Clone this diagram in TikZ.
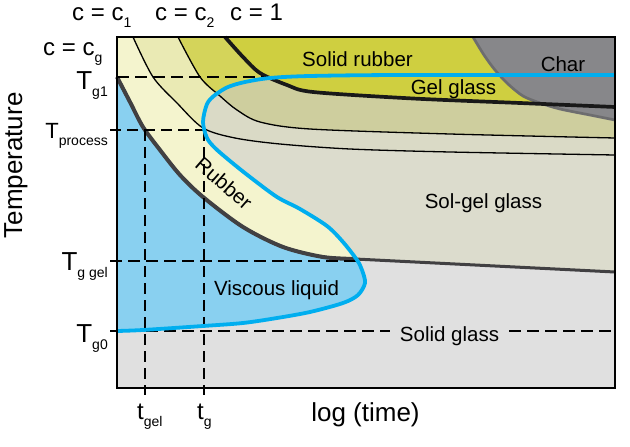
\documentclass[tikz,border=0pt]{standalone}
\usepackage{fontspec}
\setmainfont{Liberation Sans}
\definecolor{glassgray}{HTML}{E0E0E0}
\definecolor{creamband}{HTML}{F4F4CE}
\definecolor{paleband}{HTML}{EAEAB4}
\definecolor{yellowband}{HTML}{D4D45A}
\definecolor{rubberyellow}{HTML}{CFCF40}
\definecolor{solgel}{HTML}{DCDCCD}
\definecolor{solgelpale}{HTML}{DADAC6}
\definecolor{solgelkhaki}{HTML}{CECE9E}
\definecolor{liquidblue}{HTML}{89D0F0}
\definecolor{tttblue}{HTML}{00AEEF}
\definecolor{chargray}{HTML}{87878A}
\definecolor{charedge}{HTML}{6D6D6F}
\definecolor{gelgray}{HTML}{414042}
\newcommand{\lowsub}[1]{\raisebox{-7pt}{\fontsize{14}{14}\selectfont #1}}
\newcommand{\gelcurve}{plot[smooth] coordinates {(117,77) (130,102) (143,127) (160,150) (180,175) (203,197) (243,227) (283,247) (323,257) (355,259)}}
\newcommand{\conecurve}{plot[smooth] coordinates {(133,37) (153,77) (177,103) (203,128) (235,138) (280,144) (350,149) (450,152) (615,155)}}
\newcommand{\ctwocurve}{plot[smooth] coordinates {(178,37) (200,77) (220,96) (237,110) (260,122) (310,129) (450,134) (615,138)}}
\newcommand{\cthreecurve}{plot[smooth] coordinates {(225,37) (243,57) (260,73) (287,85) (313,92) (413,98.5) (520,103) (615,107)}}
\newcommand{\tttcurve}{plot[smooth] coordinates {(117,331) (143,330) (203,326) (243,323) (277,318) (310,312) (343,303) (358,295) (365,283) (362,270) (357,260) (343,242) (327,226) (300,209) (277,197) (250,177) (230,161) (215,148) (207,138) (203,122) (207,104) (215,95) (228,87) (245,82) (270,78) (310,76) (400,75) (615,75)}}
\newcommand{\charcurve}{plot[smooth] coordinates {(473,37) (484,55) (495,70) (508,84) (523,96) (540,103) (560,109) (590,115) (615,120)}}

\begin{document}
\begin{tikzpicture}[x=1pt, y=-1pt,
	region/.style={font=\fontsize{20.5}{24}\selectfont, inner sep=0pt},
	axislabel/.style={font=\fontsize{24}{28}\selectfont, inner sep=0pt},
	tlabel/.style={font=\fontsize{26}{30}\selectfont, inner sep=0pt, anchor=base east},
	guide/.style={dash pattern=on 12pt off 6pt, line width=1.8pt},
	thinguide/.style={dash pattern=on 11pt off 6pt, line width=1.3pt},
	cline/.style={line width=1.3pt}]
	\useasboundingbox (0,0) rectangle (630,447);
	\coordinate (nw) at (117,37);
	\coordinate (ne) at (615,37);
	\coordinate (se) at (615,388);
	\coordinate (sw) at (117,388);
	\coordinate (gelend) at (615,272);
	\coordinate (tgone) at (117,77);
	\coordinate (tgoneend) at (287,77);
	\coordinate (tproc) at (110,130);
	\coordinate (tprocend) at (204,130);
	\coordinate (tggel) at (110,261);
	\coordinate (tggelend) at (357,261);
	\coordinate (tgzero) at (110,331);
	\coordinate (tgzeroend) at (615,331);
	\coordinate (tgel) at (145,130);
	\coordinate (tgelend) at (145,395);
	\coordinate (tg) at (204,130);
	\coordinate (tgend) at (204,395);

	\fill[glassgray] (nw) rectangle (se);
	\fill[creamband] \gelcurve -- (gelend) -- (ne) -- (nw) -- cycle;
	\fill[paleband] \conecurve -- (ne) -- cycle;
	\fill[yellowband] \ctwocurve -- (ne) -- cycle;
	\fill[rubberyellow] \cthreecurve -- (ne) -- cycle;
	\begin{scope}
		\clip \tttcurve -- (se) -- (sw) -- cycle;
		\fill[solgel] \gelcurve -- (gelend) -- (ne) -- (nw) -- cycle;
		\fill[solgelpale] \conecurve -- (ne) -- cycle;
		\fill[solgelkhaki] \ctwocurve -- (ne) -- cycle;
		\fill[rubberyellow] \cthreecurve -- (ne) -- cycle;
	\end{scope}
	\begin{scope}
		\clip \tttcurve -- (ne) -- (nw) -- cycle;
		\fill[liquidblue] \gelcurve -- (gelend) -- (se) -- (sw) -- cycle;
	\end{scope}
	\fill[chargray] \charcurve -- (ne) -- cycle;
	\draw[charedge, line width=2.7pt] \charcurve;

	\draw[cline] \conecurve;
	\draw[cline] \ctwocurve;
	\draw[black!90, line width=3.7pt] \cthreecurve;
	\draw[gelgray, line width=3pt] \gelcurve -- (gelend);
	\draw[gelgray, line width=4pt] \gelcurve;

	\node[region, inner xsep=10pt, anchor=base] (solidglass) at (449.5,341) {Solid glass};
	\draw[guide] (tgone) -- (tgoneend);
	\draw[thinguide] (tproc) -- (tprocend);
	\draw[guide] (tggel) -- (tggelend);
	\draw[guide] (tgzero) -- (tgzero -| solidglass.west);
	\draw[guide] (tgzero -| solidglass.east) -- (tgzeroend);
	\draw[thinguide] (tgel) -- (tgelend);
	\draw[thinguide] (tg) -- (tgend);

	\draw[tttblue, line width=3.8pt] \tttcurve;
	\draw[line width=2.5pt] (nw) rectangle (se);

	\node[axislabel, anchor=base west] (cone) at (72,20) {c = c\lowsub{1}};
	\node[axislabel, anchor=base west] (ctwo) at (155,20) {c = c\lowsub{2}};
	\node[axislabel, anchor=base west] (cunit) at (230,20) {c = 1};
	\node[axislabel, anchor=base west] (cgel) at (43,55) {c = c\lowsub{g}};
	\node[tlabel] (tgonelabel) at (108,89) {T\lowsub{g1}};
	\node[tlabel, font=\fontsize{22}{26}\selectfont] (tproclabel) at (108,138) {T\lowsub{process}};
	\node[tlabel] (tggellabel) at (108,270) {T\lowsub{g gel}};
	\node[tlabel] (tgzerolabel) at (108,342) {T\lowsub{g0}};
	\node[axislabel, anchor=base west] (tgellabel) at (137,419) {t\lowsub{gel}};
	\node[axislabel, anchor=base west] (tglabel) at (197,419) {t\lowsub{g}};
	\node[axislabel, font=\fontsize{26}{30}\selectfont, anchor=base] (timelabel) at (365.5,421) {log (time)};
	\node[axislabel, font=\fontsize{26}{30}\selectfont, rotate=90, anchor=base] (templabel) at (22,165.5) {Temperature};

	\node[region, anchor=base] (solidrubber) at (357.5,66) {Solid rubber};
	\node[region, anchor=base] (gelglass) at (453.5,94.5) {Gel glass};
	\node[region, anchor=base] (charlabel) at (563,71) {Char};
	\node[region, anchor=base] (solgellabel) at (483.5,208) {Sol-gel glass};
	\node[region, anchor=base] (viscous) at (276.5,295) {Viscous liquid};
	\node[region, rotate=-41] (rubberlabel) at (224,183) {Rubber};
\end{tikzpicture}
\end{document}
